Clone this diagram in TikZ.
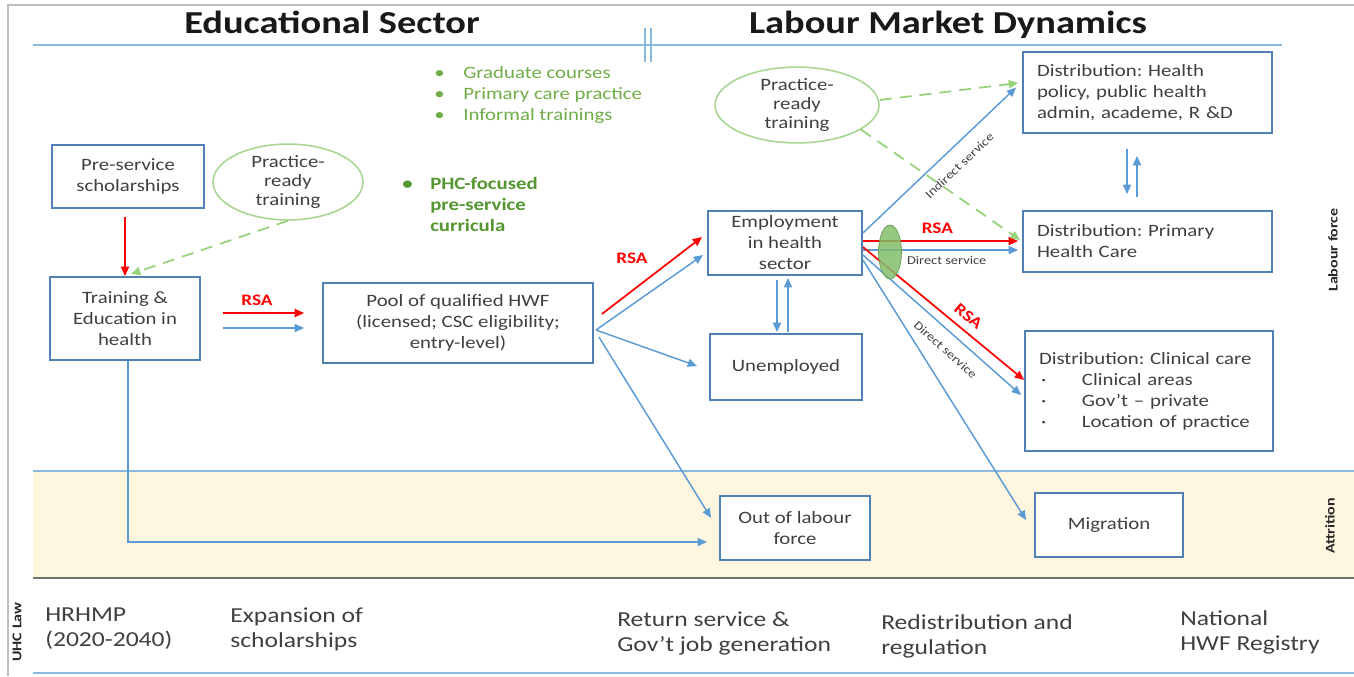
\documentclass[tikz,border=0pt]{standalone}
\usepackage{fontspec}
\setmainfont{Carlito}[FakeStretch=1.2]
\usetikzlibrary{arrows.meta,calc,shapes.geometric}

\definecolor{boxblue}{RGB}{80,128,180}
\definecolor{flowblue}{RGB}{91,155,213}
\definecolor{ringgreen}{RGB}{169,214,145}
\definecolor{dashgreen}{RGB}{150,210,120}
\definecolor{listgreen}{RGB}{112,173,71}
\definecolor{darkgreen}{RGB}{84,150,48}
\definecolor{bandfill}{RGB}{255,246,224}
\definecolor{txt}{RGB}{64,64,64}
\definecolor{rulegray}{RGB}{190,190,190}
\definecolor{rsared}{RGB}{255,0,0}
\definecolor{blobgreen}{RGB}{130,190,105}

\frenchspacing
\begin{document}
\begin{tikzpicture}[x=0.75pt,y=-0.75pt,
  box/.style={draw=boxblue, line width=1.4pt, fill=white, text=txt, align=center,
    inner sep=0pt, font=\fontsize{13}{15.75}\selectfont},
  distbox/.style={box, align=left, inner xsep=10.5pt},
  ring/.style={ellipse, draw=ringgreen, line width=1.2pt, text=txt, align=center,
    inner sep=0pt, font=\fontsize{13}{14.5}\selectfont},
  flow/.style={draw=flowblue, line width=1.1pt, -{Triangle[length=7pt,width=6pt]}},
  rsaflow/.style={draw=rsared, line width=1.3pt, -{Triangle[length=7pt,width=6pt]}},
  hint/.style={draw=dashgreen, line width=1.3pt, dash pattern=on 9pt off 6pt,
    -{Triangle[length=7pt,width=6pt]}},
  rsa/.style={text=rsared, font=\bfseries\fontsize{12}{14}\selectfont, inner sep=0pt},
  service/.style={text=txt, font=\fontsize{9}{10}\selectfont, inner sep=0pt},
  sidelabel/.style={rotate=90, font=\bfseries\fontsize{10}{12}\selectfont, text=black!85},
  policy/.style={anchor=west, align=left, inner sep=0pt, text=txt,
    font=\fontsize{16}{18.75}\selectfont},
  heading/.style={font=\bfseries\fontsize{24}{28}\selectfont, text=black!90},
  rule/.style={draw=flowblue!70, line width=1.2pt}]

\useasboundingbox (0,0) rectangle (1354,676);
\fill[white] (0,0) rectangle (1354,676);

% attrition band and horizontal rules
\fill[bandfill] (33,471) rectangle (1354,578);
\draw[rule] (33,471) -- (1354,471);
\draw[draw=black!55, line width=1.2pt] (33,578) -- (1354,578);
\draw[rule] (33,45) -- (1282,45);
\draw[rule] (33,673) -- (1354,673);
\draw[rule] (645,28) -- (645,62);
\draw[rule] (651,28) -- (651,62);
% outer frame
\draw[draw=rulegray, line width=1.2pt] (8,676) -- (8,5) -- (1354,5);

% headings
\node[heading] (edu) at (332,22) {Educational Sector};
\node[heading] (lmd) at (948,25) {Labour Market Dynamics};

% side labels
\node[sidelabel] (lf) at (1333,250) {Labour force};
\node[sidelabel] (attr) at (1330,526) {Attrition};
\node[sidelabel] (uhc) at (17,632) {UHC Law};

% green notes
\node[anchor=west, align=left, inner sep=0pt, text=listgreen,
  font=\fontsize{13}{16}\selectfont] (courses) at (434,95)
  {\makebox[21.75pt][l]{•}Graduate courses\\
   \makebox[21.75pt][l]{•}Primary care practice\\
   \makebox[21.75pt][l]{•}Informal trainings};
\node[anchor=west, align=left, inner sep=0pt, text=darkgreen,
  font=\bfseries\fontsize{13}{15.75}\selectfont] (phcfocus) at (402,204)
  {\makebox[21pt][l]{•}PHC-focused\\
   \makebox[21pt][l]{}pre-service\\
   \makebox[21pt][l]{}curricula};

% boxes
\node[box, minimum width=114pt, minimum height=47.25pt] (pre) at (128,176.5) {Pre-service\\scholarships};
\node[box, minimum width=112.5pt, minimum height=62.25pt] (train) at (125,318.5) {Training \&\\Education in\\health};
\node[box, minimum width=202.5pt, minimum height=60pt] (pool) at (458,323) {Pool of qualified HWF\\(licensed; CSC eligibility;\\entry-level)};
\node[box, minimum width=115.5pt, minimum height=48pt] (emp) at (785,243) {Employment\\in health\\sector};
\node[box, minimum width=114pt, minimum height=49.5pt] (unemp) at (786,367) {Unemployed};
\node[box, minimum width=112.5pt, minimum height=48pt] (olf) at (795,528) {Out of labour\\force};
\node[box, minimum width=111pt, minimum height=48pt] (mig) at (1109,525) {Migration};
\node[distbox, text width=165.75pt, minimum height=60.75pt] (hp) at (1147.5,92.5)
  {Distribution: Health\\policy, public health\\admin, academe, R \&D};
\node[distbox, text width=165.75pt, minimum height=45.75pt] (phc) at (1147.5,241.5)
  {Distribution: Primary\\Health Care};
\node[distbox, text width=165pt, minimum height=90pt] (cc) at (1149,391)
  {Distribution: Clinical care\\
   \makebox[32.25pt][l]{\hspace{1.5pt}·}Clinical areas\\
   \makebox[32.25pt][l]{\hspace{1.5pt}·}Gov’t -- private\\
   \makebox[32.25pt][l]{\hspace{1.5pt}·}Location of practice};

% practice-ready training ellipses
\node[ring, minimum width=112.5pt, minimum height=52.5pt] (pr1) at (288,182) {Practice-\\ready\\training};
\node[ring, minimum width=123pt, minimum height=51pt] (pr2) at (797,105) {Practice-\\ready\\training};

% educational sector flows
\draw[rsaflow] ($(train.north |- pre.south)+(0,8)$) -- (train.north);
\draw[hint] (pr1.south) -- ($(train.north)+(6,-2)$);
\draw[rsaflow] ($(train.east)+(22,-5.5)$) -- node[rsa, pos=0.42, above=5pt] (rsa1) {RSA} ($(pool.west)+(-18,-10)$);
\draw[flow] ($(train.east)+(22,9.5)$) -- ($(pool.west)+(-18,5)$);
\draw[flow] ($(train.south)+(3,0)$) |- ($(olf.west)+(-12,14)$);

% pool outflows
\draw[rsaflow] ($(pool.east)+(8,-9)$) -- node[rsa, pos=0.3, above=20pt] (rsa2) {RSA} ($(emp.west)+(-5,-6)$);
\draw[flow] ($(pool.east)+(2,7)$) -- ($(emp.west)+(-4,12)$);
\draw[flow] ($(pool.east)+(2,7)$) -- ($(unemp.west)+(-12,-1)$);
\draw[flow] ($(pool.east)+(5,14)$) -- ($(olf.west)+(-8,-10)$);

% employment <-> unemployment
\draw[flow] ($(emp.south)+(-8,4)$) -- ($(unemp.north)+(-9,-1)$);
\draw[flow] ($(unemp.north)+(2,-1)$) -- ($(emp.south)+(3,2)$);

% employment outflows
\draw[flow] ($(emp.east)+(0,-10)$) -- node[service, sloped, pos=0.55, below=9.5pt] (ind) {Indirect service} ($(hp.west)+(-6,-5)$);
\draw[rsaflow] ($(emp.east)+(0,-2)$) -- node[rsa, pos=0.48, above=5pt] (rsa3) {RSA} ($(phc.west)+(-4,-0.5)$);
\draw[flow] ($(emp.east)+(0,7)$) -- node[service, pos=0.54, below=4.5pt] (dir1) {Direct service} ($(phc.west)+(-4,8.5)$);
\draw[rsaflow] ($(emp.east)+(0,4)$) -- node[rsa, sloped, pos=0.6, above=5.7pt] (rsa4) {RSA} ($(cc.west)+(0,-11)$);
\draw[flow] ($(emp.east)+(0,12)$) -- node[service, sloped, pos=0.59, below=8.5pt] (dir2) {Direct service} ($(cc.west)+(-3,4)$);
\draw[flow] ($(emp.east)+(0,17)$) -- ($(mig.west)+(-8,-5)$);

% green marker across the direct-service flows
\node[ellipse, fill=blobgreen, fill opacity=0.85, draw=blobgreen!80!black, line width=0.5pt,
  minimum width=17.25pt, minimum height=40.5pt, inner sep=0pt] (blob) at (890,252) {};

% practice-ready training links
\draw[hint] ($(pr2.east)+(0,-5)$) -- ($(hp.west)+(-4,-9.5)$);
\draw[hint] (pr2.-21) -- ($(phc.west)+(-2,-1.5)$);

% movement between distribution areas
\draw[flow] ($(hp.south)+(-20.5,15)$) -- ($(phc.north)+(-20.5,-16)$);
\draw[flow] ($(phc.north)+(-10.5,-13)$) -- ($(hp.south)+(-10.5,22)$);

% policy levers
\node[policy] (hrhmp) at (45,629) {HRHMP\\(2020-2040)};
\node[policy] (expand) at (230,629) {Expansion of\\scholarships};
\node[policy] (ret) at (617,633) {Return service \&\\Gov’t job generation};
\node[policy] (redis) at (881,636) {Redistribution and\\regulation};
\node[policy] (reg) at (1180,632) {National\\HWF Registry};
\end{tikzpicture}
\end{document}
